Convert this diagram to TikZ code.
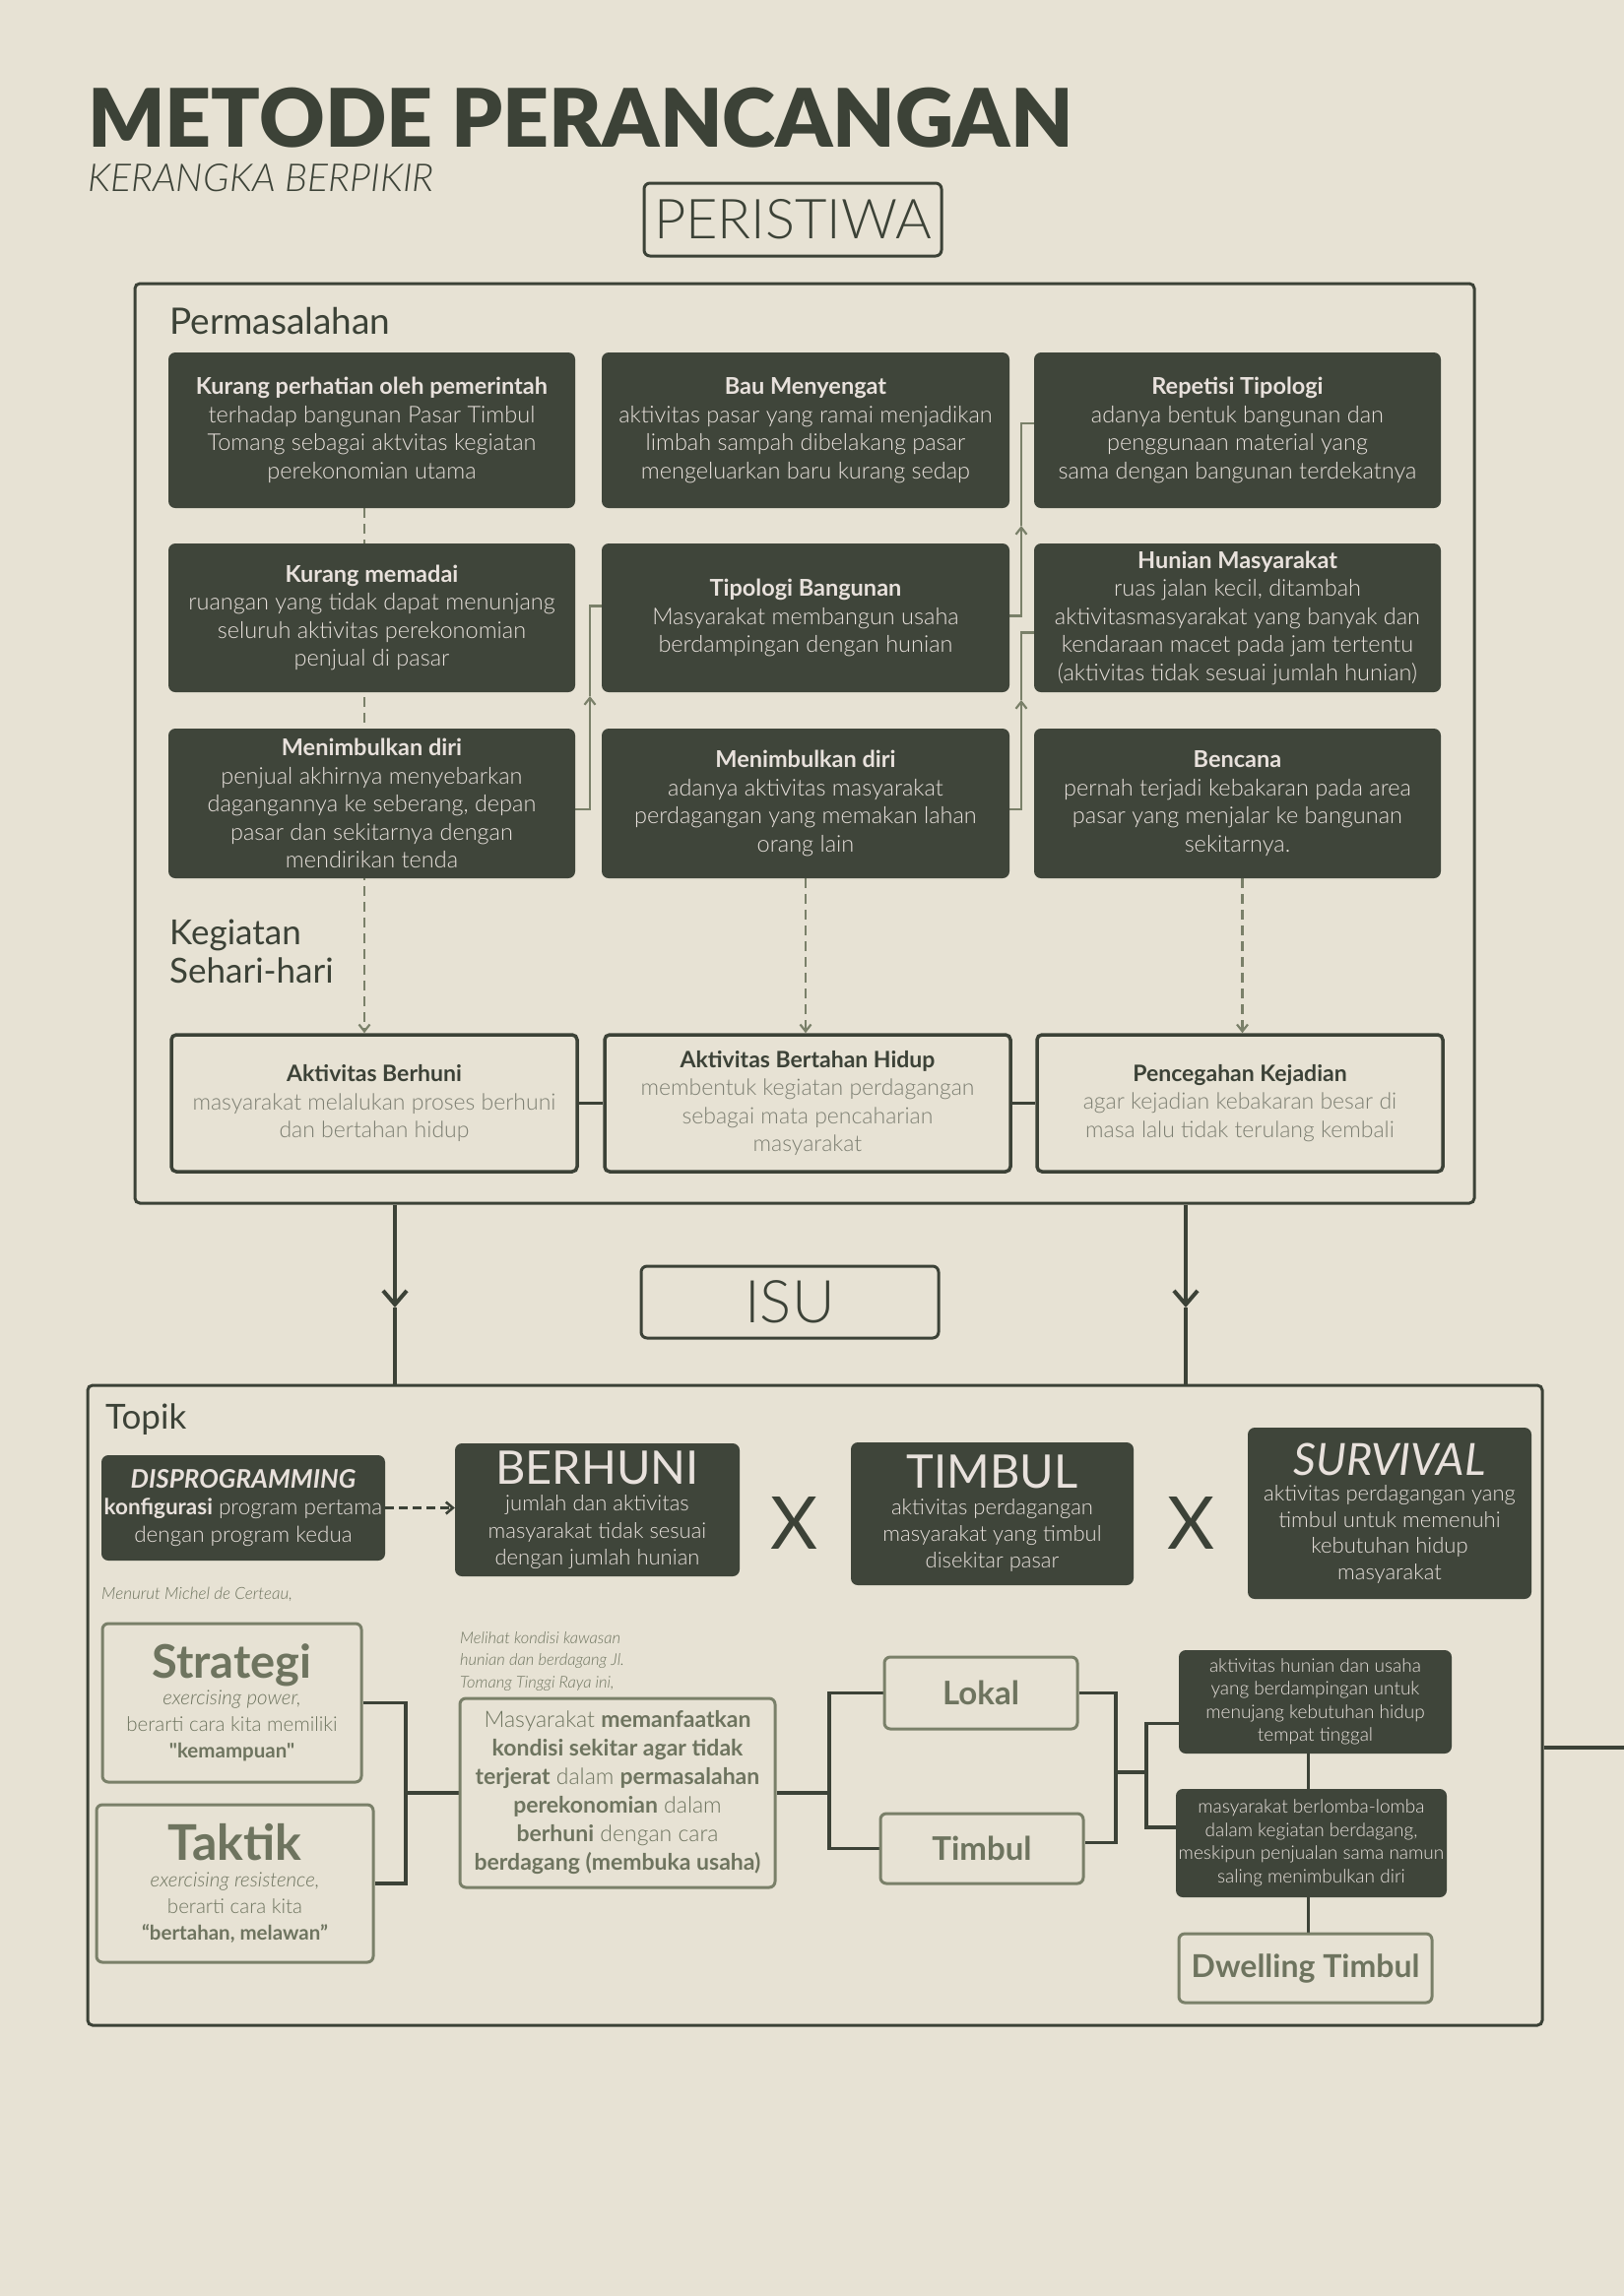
\documentclass[tikz,border=0pt]{standalone}
\usepackage{fontspec}
\setmainfont{Lato}
\newfontfamily\LR{Lato}
\newfontfamily\LL{Lato Light}[ItalicFont={Lato Light Italic},BoldFont={Lato Bold},BoldItalicFont={Lato Bold Italic}]
\newfontfamily\LB{Lato Black}
\usetikzlibrary{arrows.meta}
\definecolor{paper}{HTML}{E7E2D4}
\definecolor{ink}{HTML}{3C4237}
\definecolor{boxfill}{HTML}{3F453A}
\definecolor{lighttext}{HTML}{E8E1DC}
\definecolor{olive}{HTML}{7A8069}
\definecolor{olivetext}{HTML}{6E745F}
\definecolor{graytext}{HTML}{7C7E71}
\pgfdeclarelayer{paperlayer}
\pgfdeclarelayer{lines}
\pgfsetlayers{paperlayer,lines,main}
\tikzset{
  darkbox/.style={fill=boxfill, rounded corners=7pt, text=lighttext, align=center, inner sep=0pt,
    font=\LL\fontsize{23.5}{28.5}\selectfont},
  smalldark/.style={fill=boxfill, rounded corners=7pt, text=lighttext, align=center, inner sep=0pt,
    font=\LL\fontsize{19}{23.5}\selectfont},
  outbox/.style={draw=ink, line width=3pt, rounded corners=6pt, inner sep=0pt, align=center, text=ink},
  kegbox/.style={draw=ink, line width=3.5pt, rounded corners=5pt, inner sep=0pt, align=center, text=graytext,
    font=\LL\fontsize{23}{28.5}\selectfont},
  olivebox/.style={draw=olive, line width=3pt, rounded corners=6pt, inner sep=0pt, align=center, text=olivetext},
  frame/.style={draw=ink, line width=3pt, rounded corners=5pt, inner sep=0pt},
  conn/.style={draw=olive, line width=2.2pt},
  midtip/.style={-{Straight Barb[length=7pt,width=11pt]}},
  dashconn/.style={draw=olive, line width=2.2pt, dash pattern=on 10pt off 6pt},
  bigline/.style={draw=ink, line width=4pt},
  darkline/.style={draw=ink, line width=3.5pt},
  label/.style={anchor=base west, inner sep=0pt, text=ink}
}
\begin{document}
\begin{tikzpicture}[x=1pt,y=-1pt]
\begin{pgfonlayer}{paperlayer}
\fill[paper] (0,0) rectangle (1649,2332);
\end{pgfonlayer}
\useasboundingbox (0,0) rectangle (1649,2332);

% ---------- title ----------
\node[label] (title) at (89,149) {\LB\fontsize{82}{82}\selectfont METODE PERANCANGAN};
\node[label] (subtitle) at (89,194) {\LL\fontsize{39}{39}\selectfont\itshape KERANGKA BERPIKIR};
\node[outbox, minimum width=302pt, minimum height=74pt] (peri) at (805,223) {\LL\fontsize{56}{56}\selectfont PERISTIWA};

% ---------- Permasalahan frame ----------
\node[frame, minimum width=1360pt, minimum height=934pt] (perm) at (817,755) {};
\node[label] (permlbl) at (172,339) {\LR\fontsize{37}{37}\selectfont Permasalahan};

% row 1
\node[darkbox, minimum width=413pt, minimum height=158pt] (r1c1) at (377.5,437)
  {\textbf{Kurang perhatian oleh pemerintah}\\terhadap bangunan Pasar Timbul\\Tomang sebagai aktvitas kegiatan\\perekonomian utama};
\node[darkbox, minimum width=414pt, minimum height=158pt] (r1c2) at (818,437)
  {\textbf{Bau Menyengat}\\aktivitas pasar yang ramai menjadikan\\limbah sampah dibelakang pasar\\mengeluarkan baru kurang sedap};
\node[darkbox, minimum width=413pt, minimum height=158pt] (r1c3) at (1256.5,437)
  {\textbf{Repetisi Tipologi}\\adanya bentuk bangunan dan\\penggunaan material yang\\sama dengan bangunan terdekatnya};
% row 2
\node[darkbox, minimum width=413pt, minimum height=151pt] (r2c1) at (377.5,627.5)
  {\textbf{Kurang memadai}\\ruangan yang tidak dapat menunjang\\seluruh aktivitas perekonomian\\penjual di pasar};
\node[darkbox, minimum width=414pt, minimum height=151pt] (r2c2) at (818,627.5)
  {\textbf{Tipologi Bangunan}\\Masyarakat membangun usaha\\berdampingan dengan hunian};
\node[darkbox, minimum width=413pt, minimum height=151pt] (r2c3) at (1256.5,627.5)
  {\textbf{Hunian Masyarakat}\\ruas jalan kecil, ditambah\\aktivitasmasyarakat yang banyak dan\\kendaraan macet pada jam tertentu\\(aktivitas tidak sesuai jumlah hunian)};
% row 3
\node[darkbox, minimum width=413pt, minimum height=152pt] (r3c1) at (377.5,816)
  {\textbf{Menimbulkan diri}\\penjual akhirnya menyebarkan\\dagangannya ke seberang, depan\\pasar dan sekitarnya dengan\\mendirikan tenda};
\node[darkbox, minimum width=414pt, minimum height=152pt] (r3c2) at (818,816)
  {\textbf{Menimbulkan diri}\\adanya aktivitas masyarakat\\perdagangan yang memakan lahan\\orang lain};
\node[darkbox, minimum width=413pt, minimum height=152pt] (r3c3) at (1256.5,816)
  {\textbf{Bencana}\\pernah terjadi kebakaran pada area\\pasar yang menjalar ke bangunan\\sekitarnya.};

\node[label] (keglbl) at (172,959) {\LR\fontsize{35}{39}\selectfont Kegiatan};
\node[label] (keglbl2) at (172,998) {\LR\fontsize{35}{39}\selectfont Sehari-hari};

% kegiatan boxes
\node[kegbox, minimum width=412pt, minimum height=139pt] (kb1) at (380,1120.5)
  {{\LR\bfseries\color{ink}Aktivitas Berhuni}\\masyarakat melalukan proses berhuni\\dan bertahan hidup};
\node[kegbox, minimum width=412pt, minimum height=139pt] (kb2) at (820,1120.5)
  {{\LR\bfseries\color{ink}Aktivitas Bertahan Hidup}\\membentuk kegiatan perdagangan\\sebagai mata pencaharian\\masyarakat};
\node[kegbox, minimum width=412pt, minimum height=139pt] (kb3) at (1259,1120.5)
  {{\LR\bfseries\color{ink}Pencegahan Kejadian}\\agar kejadian kebakaran besar di\\masa lalu tidak terulang kembali};

% ---------- ISU ----------
\node[outbox, minimum width=302pt, minimum height=73pt] (isu) at (802,1322.5) {\LL\fontsize{60}{60}\selectfont ISU};

% ---------- Topik frame ----------
\node[frame, minimum width=1477pt, minimum height=650pt] (topik) at (827.5,1732) {};
\node[label] (topiklbl) at (107,1451) {\LR\fontsize{35}{35}\selectfont Topik};

\node[darkbox, minimum width=288pt, minimum height=107pt, font=\LL\fontsize{22.5}{27.5}\selectfont] (disp) at (247,1531.5)
  {{\fontsize{26}{30}\selectfont\bfseries\itshape DISPROGRAMMING}\\\textbf{konfigurasi} program pertama\\dengan program kedua};
\node[darkbox, minimum width=289pt, minimum height=135pt, font=\LL\fontsize{22}{27.5}\selectfont] (ber) at (606.5,1533.5)
  {{\LR\fontsize{47}{44}\selectfont BERHUNI}\\jumlah dan aktivitas\\masyarakat tidak sesuai\\dengan jumlah hunian};
\node[text=ink, inner sep=0pt] (x1) at (807,1547) {\LR\fontsize{74}{74}\selectfont X};
\node[darkbox, minimum width=287pt, minimum height=145pt, font=\LL\fontsize{22}{27}\selectfont] (tim) at (1007.5,1537.5)
  {{\LR\fontsize{47}{44}\selectfont TIMBUL}\\aktivitas perdagangan\\masyarakat yang timbul\\disekitar pasar};
\node[text=ink, inner sep=0pt] (x2) at (1209,1547) {\LR\fontsize{74}{74}\selectfont X};
\node[darkbox, minimum width=288pt, minimum height=174pt, font=\LL\fontsize{22}{26.5}\selectfont] (surv) at (1411,1537)
  {{\LR\fontsize{45}{44}\selectfont\itshape SURVIVAL}\\aktivitas perdagangan yang\\timbul untuk memenuhi\\kebutuhan hidup\\masyarakat};

\node[anchor=base west, inner sep=0pt, text=olivetext, font=\LL\fontsize{17}{17}\selectfont\itshape] (menurut) at (103,1624)
  {Menurut Michel de Certeau,};

\node[olivebox, minimum width=263pt, minimum height=161pt, font=\LL\fontsize{20.5}{27}\selectfont] (strat) at (235.5,1729.5)
  {{\fontsize{47}{50}\selectfont\bfseries Strategi}\\\textit{exercising power,}\\berarti cara kita memiliki\\\textbf{"kemampuan"}};
\node[olivebox, minimum width=281pt, minimum height=160pt, font=\LL\fontsize{20.5}{27}\selectfont] (tak) at (238.5,1913)
  {{\fontsize{50}{50}\selectfont\bfseries Taktik}\\\textit{exercising resistence,}\\berarti cara kita\\\textbf{“bertahan, melawan”}};

\node[anchor=north west, inner sep=0pt, text=olivetext, align=left, font=\LL\fontsize{16.5}{22.5}\selectfont\itshape] (melihat) at (467,1657)
  {Melihat kondisi kawasan\\hunian dan berdagang Jl.\\Tomang Tinggi Raya ini,};
\node[olivebox, minimum width=320pt, minimum height=192pt, font=\LL\fontsize{23}{29}\selectfont] (cen) at (627,1821)
  {Masyarakat \textbf{memanfaatkan}\\\textbf{kondisi sekitar agar tidak}\\\textbf{terjerat} dalam \textbf{permasalahan}\\\textbf{perekonomian} dalam\\\textbf{berhuni} dengan cara\\\textbf{berdagang (membuka usaha)}};

\node[olivebox, minimum width=196pt, minimum height=73pt] (lok) at (996,1719.5) {\LR\fontsize{33}{33}\selectfont\bfseries Lokal};
\node[olivebox, minimum width=206pt, minimum height=71pt] (tims) at (997,1877.5) {\LR\fontsize{33}{33}\selectfont\bfseries Timbul};

\node[smalldark, minimum width=277pt, minimum height=105pt] (boxa) at (1335.5,1728.5)
  {aktivitas hunian dan usaha\\yang berdampingan untuk\\menujang kebutuhan hidup\\tempat tinggal};
\node[smalldark, minimum width=275pt, minimum height=110pt] (boxb) at (1331.5,1872)
  {masyarakat berlomba-lomba\\dalam kegiatan berdagang,\\meskipun penjualan sama namun\\saling menimbulkan diri};
\node[olivebox, minimum width=257pt, minimum height=70pt] (dwell) at (1325.5,1999) {\LR\fontsize{32}{32}\selectfont\bfseries Dwelling Timbul};

% ---------- coordinates ----------
\coordinate (dx1) at (370,0);
\coordinate (k1) at (599,707);
\coordinate (k2) at (1037,534);
\coordinate (k3) at (1037,711);
\coordinate (ax1) at (401,1328);
\coordinate (ax2) at (1204,1328);
\coordinate (j1) at (412,1821);
\coordinate (j2) at (842,1821);
\coordinate (j3) at (1133,1800);
\coordinate (j4) at (1164,1800);
\coordinate (pageR) at (1649,1775);

% ---------- connectors ----------
\begin{pgfonlayer}{lines}
% dashed verticals
\draw[dashconn, -{Straight Barb[length=7pt,width=11pt]}] (r1c1.south -| dx1) -- (kb1.north -| dx1);
\draw[dashconn, -{Straight Barb[length=7pt,width=11pt]}] (r3c2.south) -- (r3c2.south |- kb2.north);
\draw[dashconn, -{Straight Barb[length=7pt,width=11pt]}] ([xshift=5pt]r3c3.south) -- ([xshift=5pt]r3c3.south |- kb3.north);
% solid olive elbows with arrows
\draw[conn, midtip] ([yshift=-6pt]r3c1.east) -| (k1);
\draw[conn] (k1) |- ([yshift=12pt]r2c2.west);
\draw[conn, midtip] ([yshift=2pt]r2c2.east) -| (k2);
\draw[conn] (k2) |- ([yshift=7pt]r1c3.west);
\draw[conn, midtip] ([yshift=-6pt]r3c2.east) -| (k3);
\draw[conn] (k3) |- ([yshift=-15pt]r2c3.west);
% kegiatan links
\draw[darkline] (kb1.east) -- (kb2.west);
\draw[darkline] (kb2.east) -- (kb3.west);
% big arrows
\draw[bigline, -{Straight Barb[length=14pt,width=24pt]}] (perm.south -| ax1) -- (ax1);
\draw[bigline] (ax1) -- (ax1 |- topik.north);
\draw[bigline, -{Straight Barb[length=14pt,width=24pt]}] (perm.south -| ax2) -- (ax2);
\draw[bigline] (ax2) -- (ax2 |- topik.north);
% disprogramming arrow
\draw[draw=ink, line width=2.6pt, dash pattern=on 9pt off 5pt, -{Straight Barb[length=7pt,width=12pt]}] (disp.east) -- (disp.east -| ber.west);
% strategi / taktik tree
\draw[darkline] (strat.east) -| (j1) |- (tak.east);
\draw[darkline] (j1) -- (cen.west);
\draw[darkline] (lok.west) -| (j2) |- (tims.west);
\draw[darkline] (cen.east) -- (j2);
\draw[darkline] (lok.east) -| (j3) |- ([yshift=6pt]tims.east);
\draw[darkline] (j3) -- (j4);
\draw[darkline] ([yshift=-22pt]boxa.west) -| (j4) |- ([yshift=16pt]boxb.west);
\draw[darkline] ([xshift=-7pt]boxa.south) -- ([xshift=-3pt]boxb.north);
\draw[darkline] ([xshift=-3pt]boxb.south) -- ([xshift=-3pt]boxb.south |- dwell.north);
% exit line to the right
\draw[bigline] ([yshift=-43pt]topik.east) -- (pageR);
\end{pgfonlayer}
\end{tikzpicture}
\end{document}
